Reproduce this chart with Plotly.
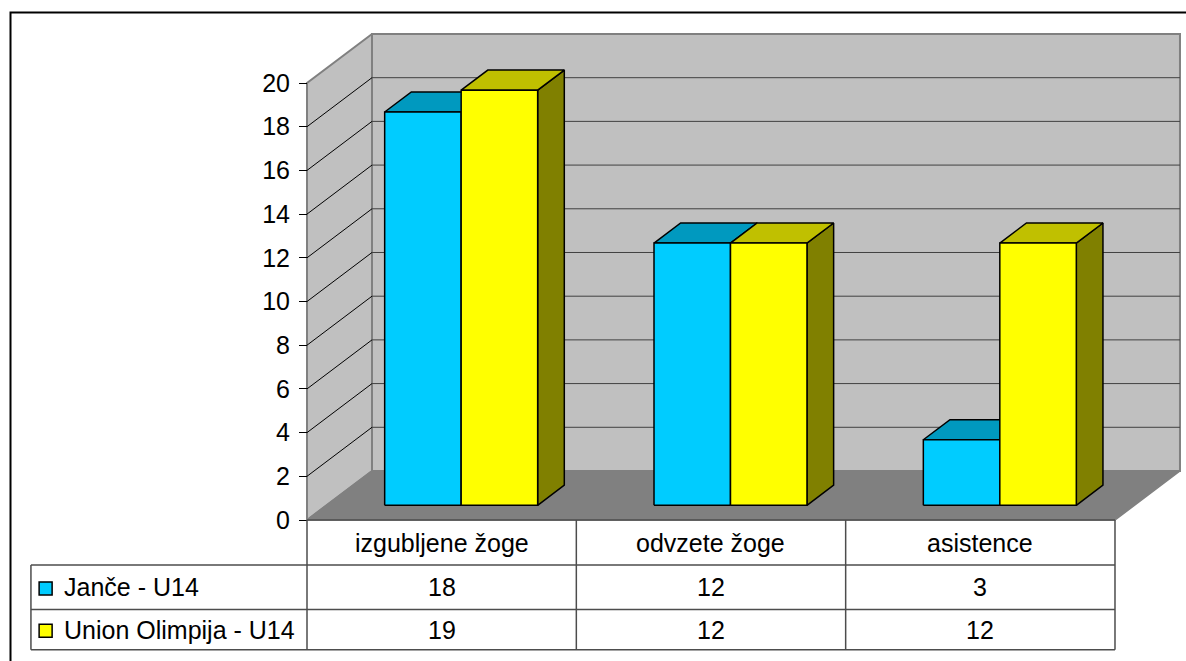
import plotly.graph_objects as go

# ---- data -------------------------------------------------------------
categories = ["izgubljene žoge", "odvzete žoge", "asistence"]
series_names = ["Janče - U14", "Union Olimpija - U14"]
jance_u14 = [18, 12, 3]
union_olimpija_u14 = [19, 12, 12]
y_ticks = [0, 2, 4, 6, 8, 10, 12, 14, 16, 18, 20]

series_values = [jance_u14, union_olimpija_u14]

# ---- styling ----------------------------------------------------------
FONT = "Liberation Sans, Arial, sans-serif"
FONT_SIZE = 25
FACE_COLORS = [
    {"front": "#00CCFF", "top": "#0099BF", "side": "#007799"},
    {"front": "#FFFF00", "top": "#C0C000", "side": "#808000"},
]
WALL = "#C0C0C0"
FLOOR = "#808080"
WALL_EDGE = "#808080"
GRID_BACK = "#404040"
GRID_SIDE = "#000000"
TABLE_LINE = "#4D4D4D"

# 3D projection: full depth shifts a point right (category units) and up (value units)
DEPTH_DX = 0.2413
DEPTH_DY = 2.243
BAR_D0, BAR_D1 = 0.30, 0.71      # front / back depth of the bars
BAR_W = 0.284                    # width of one bar in category units
V_MAX = y_ticks[-1]
U_LO, U_HI = -0.5, len(categories) - 0.5

# axis ranges (plot area covers the whole figure)
W, H = 1186, 661
PX_U = 269.33                    # pixels per category
PX_V = 21.85                     # pixels per value unit
X_MIN = U_LO - 307 / PX_U
X_MAX = X_MIN + W / PX_U
Y_MAX = 520 / PX_V
Y_MIN = Y_MAX - H / PX_V

# table geometry (value units below zero, category units across)
HEAD_H = 2.06
ROW_H = [2.04, 1.84]
TABLE_LEFT = -1.525


def proj(u, v, d):
    return u + d * DEPTH_DX, v + d * DEPTH_DY


def poly(points, fill, line_color, line_width):
    xs, ys = zip(*[proj(*p) for p in points])
    xs = list(xs) + [xs[0]]
    ys = list(ys) + [ys[0]]
    return go.Scatter(
        x=xs, y=ys, mode="lines", fill="toself", fillcolor=fill,
        line=dict(color=line_color, width=line_width),
        hoverinfo="skip", showlegend=False,
    )


def seg(p0, p1, color, width):
    (x0, y0), (x1, y1) = proj(*p0), proj(*p1)
    return go.Scatter(
        x=[x0, x1], y=[y0, y1], mode="lines",
        line=dict(color=color, width=width),
        hoverinfo="skip", showlegend=False,
    )


fig = go.Figure()

# ---- walls and floor --------------------------------------------------
fig.add_trace(poly([(U_LO, 0, 1), (U_HI, 0, 1), (U_HI, V_MAX, 1), (U_LO, V_MAX, 1)],
                   WALL, WALL_EDGE, 2))
fig.add_trace(poly([(U_LO, 0, 0), (U_LO, 0, 1), (U_LO, V_MAX, 1), (U_LO, V_MAX, 0)],
                   WALL, WALL_EDGE, 2))

for v in y_ticks[1:-1]:
    fig.add_trace(seg((U_LO, v, 1), (U_HI, v, 1), GRID_BACK, 1))
    fig.add_trace(seg((U_LO, v, 0), (U_LO, v, 1), GRID_SIDE, 1))

fig.add_trace(poly([(U_LO, 0, 0), (U_HI, 0, 0), (U_HI, 0, 1), (U_LO, 0, 1)],
                   FLOOR, WALL_EDGE, 1.5))

# ---- bars -------------------------------------------------------------
for i, _ in enumerate(categories):
    for k, values in enumerate(series_values):
        h = values[i]
        u0 = i - BAR_W + k * BAR_W
        u1 = u0 + BAR_W
        c = FACE_COLORS[k]
        fig.add_trace(poly([(u1, 0, BAR_D0), (u1, 0, BAR_D1), (u1, h, BAR_D1), (u1, h, BAR_D0)],
                           c["side"], "black", 1.5))
        fig.add_trace(poly([(u0, h, BAR_D0), (u1, h, BAR_D0), (u1, h, BAR_D1), (u0, h, BAR_D1)],
                           c["top"], "black", 1.5))
        fig.add_trace(poly([(u0, 0, BAR_D0), (u1, 0, BAR_D0), (u1, h, BAR_D0), (u0, h, BAR_D0)],
                           c["front"], "black", 1.5))

# ---- data table -------------------------------------------------------
shapes = []
row_tops = [0, -HEAD_H, -HEAD_H - ROW_H[0]]
table_bottom = -HEAD_H - ROW_H[0] - ROW_H[1]


def hline(x0, x1, y):
    shapes.append(dict(type="line", xref="x", yref="y", x0=x0, x1=x1, y0=y, y1=y,
                       line=dict(color=TABLE_LINE, width=1.5)))


def vline(x, y0, y1):
    shapes.append(dict(type="line", xref="x", yref="y", x0=x, x1=x, y0=y0, y1=y1,
                       line=dict(color=TABLE_LINE, width=1.5)))


hline(U_LO, U_HI, 0)
hline(TABLE_LEFT, U_HI, row_tops[1])
hline(TABLE_LEFT, U_HI, row_tops[2])
hline(TABLE_LEFT, U_HI, table_bottom)
for j in range(len(categories) + 1):
    vline(U_LO + j, 0, table_bottom)
vline(TABLE_LEFT, row_tops[1], table_bottom)

annotations = []
for i, cat in enumerate(categories):
    annotations.append(dict(x=i, y=-HEAD_H / 2, text=cat, showarrow=False,
                            xanchor="center", yanchor="middle"))
for k, values in enumerate(series_values):
    yc = row_tops[k + 1] - ROW_H[k] / 2
    for i, val in enumerate(values):
        annotations.append(dict(x=i, y=yc, text=str(val), showarrow=False,
                                xanchor="center", yanchor="middle"))
    annotations.append(dict(x=-1.41, y=yc, text=series_names[k], showarrow=False,
                            xanchor="left", yanchor="middle"))
    fig.add_trace(go.Scatter(
        x=[-1.4705], y=[yc - 0.05], mode="markers",
        marker=dict(symbol="square", size=13, color=FACE_COLORS[k]["front"],
                    line=dict(color="black", width=1.5)),
        hoverinfo="skip", showlegend=False,
    ))

# outer frame of the chart object
shapes.append(dict(type="rect", xref="paper", yref="paper",
                   x0=10.5 / W, x1=1.05, y0=-0.05, y1=1 - 12.5 / H,
                   line=dict(color="black", width=2), fillcolor="rgba(0,0,0,0)"))

fig.update_layout(
    width=W, height=H,
    margin=dict(l=0, r=0, t=0, b=0),
    paper_bgcolor="white", plot_bgcolor="white",
    font=dict(family=FONT, size=FONT_SIZE, color="black"),
    showlegend=False, hovermode=False,
    shapes=shapes, annotations=annotations,
    xaxis=dict(range=[X_MIN, X_MAX], visible=False, domain=[0, 1]),
    yaxis=dict(
        range=[Y_MIN, Y_MAX], tickvals=y_ticks, ticktext=[str(t) for t in y_ticks],
        ticks="outside", ticklen=8, tickwidth=1, tickcolor="black",
        showgrid=False, zeroline=False, showline=False,
        anchor="free", position=(U_LO - X_MIN) / (X_MAX - X_MIN),
        tickfont=dict(family=FONT, size=FONT_SIZE, color="black"),
        ticklabelstandoff=4,
    ),
)

fig.write_html("out.html")
